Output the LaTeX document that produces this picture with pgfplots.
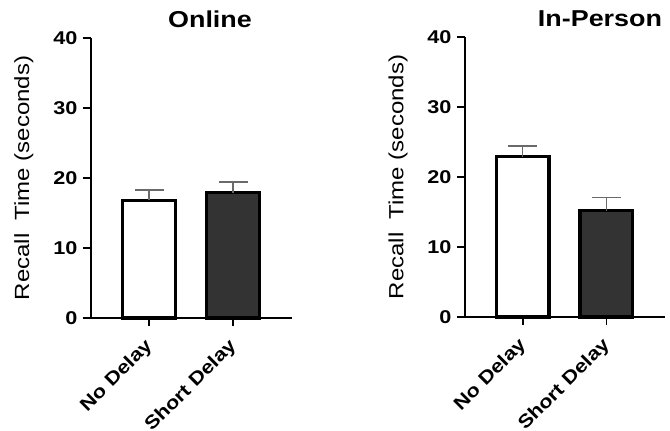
\documentclass[border=0pt]{standalone}
\usepackage{fontspec}
\setmainfont{Liberation Sans}[FakeStretch=1.17]
\usepackage{pgfplots}
\pgfplotsset{compat=1.18}
\definecolor{darkbar}{HTML}{333333}
\definecolor{errgray}{HTML}{6A6A6A}
\pgfplotsset{
 panel/.style={
  scale only axis, height=280pt,
  axis lines=left, axis line style={-, line width=2pt},
  xmin=-0.69, xmax=1.70, ymin=0, ymax=40,
  ytick={0,10,20,30,40}, xtick={0,1},
  xticklabels={No Delay, Short Delay},
  tick align=outside, major tick length=8pt, tick style={line width=1.8pt, black},
  /pgf/number format/assume math mode=true,
  yticklabel style={font=\fontsize{18.5}{19}\selectfont\bfseries, xshift=-2pt},
  xticklabel style={font=\fontsize{18.5}{19}\selectfont\bfseries, xshift=3pt, yshift=-15pt, rotate=45, anchor=east},
  ylabel={Recall\ \ Time (seconds)},
  ylabel style={font=\fontsize{20.5}{22}\selectfont, at={(axis description cs:-0.269,0.5)}, anchor=south},
  title style={font=\fontsize{23}{24}\selectfont\bfseries, anchor=base, yshift=5pt},
  ybar, bar width=0.63, bar shift=0pt,
  clip=false,
 },
 whitebar/.style={fill=white, draw=black, line width=3.4pt,
   error bars/.cd, y dir=plus, y explicit,
   error bar style={errgray, line width=1.5pt},
   error mark options={rotate=90, mark size=14.5pt, errgray, line width=1.5pt}},
 darkbar/.style={fill=darkbar, draw=black, line width=3.4pt,
   error bars/.cd, y dir=plus, y explicit,
   error bar style={errgray, line width=1.5pt},
   error mark options={rotate=90, mark size=14.5pt, errgray, line width=1.5pt}},
}
\begin{document}
\begin{tikzpicture}
\useasboundingbox (0,0) rectangle (670pt,-431pt);
\begin{axis}[panel, width=201pt, at={(91pt,-318pt)}, anchor=south west,
  title={Online}, title style={at={(axis description cs:0.592,1)}}]
\addplot[whitebar] coordinates {(0,16.8) +- (0,1.5)};
\addplot[darkbar] coordinates {(1,17.9) +- (0,1.5)};
\end{axis}
\begin{axis}[panel, width=200pt, at={(465pt,-317pt)}, anchor=south west,
  title={In-Person}, title style={at={(axis description cs:0.675,1)}}]
\addplot[whitebar] coordinates {(0,22.9) +- (0,1.5)};
\addplot[darkbar] coordinates {(1,15.2) +- (0,1.9)};
\end{axis}
\end{tikzpicture}
\end{document}
